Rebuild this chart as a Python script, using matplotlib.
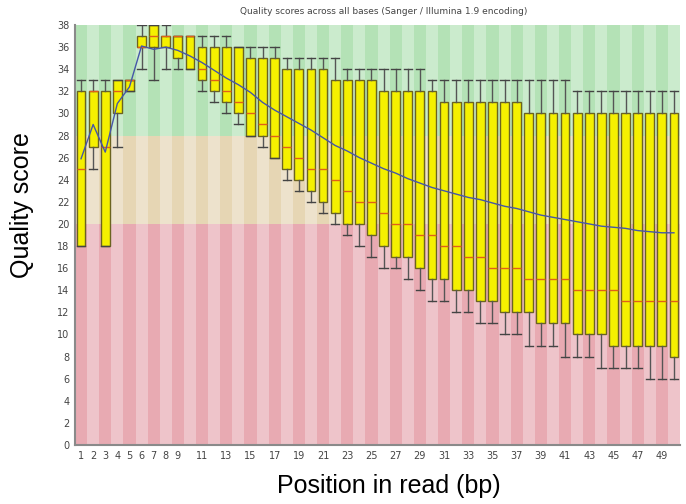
import matplotlib
matplotlib.use("Agg")
import matplotlib.pyplot as plt

# Per-base quality (FastQC style): whiskers = 10th/90th pct, box = quartiles
positions = list(range(1, 51))
whisker_low = [18, 25, 18, 27, 32, 34, 33, 34, 34, 34,
               32, 31, 30, 29, 28, 27, 26, 24, 23, 22,
               21, 20, 19, 18, 17, 16, 16, 15, 14, 13,
               13, 12, 12, 11, 11, 10, 10, 9, 9, 9,
               8, 8, 8, 7, 7, 7, 7, 6, 6, 6]
q1 = [18, 27, 18, 30, 32, 36, 36, 36, 35, 34,
      33, 32, 31, 30, 28, 28, 26, 25, 24, 23,
      22, 21, 20, 20, 19, 18, 17, 17, 16, 15,
      15, 14, 14, 13, 13, 12, 12, 12, 11, 11,
      11, 10, 10, 10, 9, 9, 9, 9, 9, 8]
median = [25, 32, 27, 32, 33, 36, 37, 37, 37, 37,
          34, 33, 32, 31, 30, 29, 28, 27, 26, 25,
          25, 24, 23, 22, 22, 21, 20, 20, 19, 19,
          18, 18, 17, 17, 16, 16, 16, 15, 15, 15,
          15, 14, 14, 14, 14, 13, 13, 13, 13, 13]
q3 = [32, 32, 32, 33, 33, 37, 38, 37, 37, 37,
      36, 36, 36, 36, 35, 35, 35, 34, 34, 34,
      34, 33, 33, 33, 33, 32, 32, 32, 32, 32,
      31, 31, 31, 31, 31, 31, 31, 30, 30, 30,
      30, 30, 30, 30, 30, 30, 30, 30, 30, 30]
whisker_high = [33, 33, 33, 33, 33, 38, 38, 38, 37, 37,
                37, 37, 37, 36, 36, 36, 36, 35, 35, 35,
                35, 35, 34, 34, 34, 34, 34, 34, 34, 33,
                33, 33, 33, 33, 33, 33, 33, 33, 33, 33,
                33, 32, 32, 32, 32, 32, 32, 32, 32, 32]
mean = [25.9, 29.0, 26.5, 30.9, 32.4, 36.1, 35.8, 36.0, 35.7, 35.2,
        34.6, 33.9, 33.2, 32.6, 31.9, 31.0, 30.3, 29.7, 29.1, 28.5,
        27.8, 27.1, 26.6, 26.0, 25.5, 25.0, 24.6, 24.1, 23.7, 23.3,
        23.0, 22.7, 22.4, 22.2, 21.9, 21.6, 21.4, 21.1, 20.8, 20.6,
        20.4, 20.2, 20.0, 19.8, 19.7, 19.6, 19.4, 19.3, 19.2, 19.2]

xtick_labels = [1, 2, 3, 4, 5, 6, 7, 8, 9] + list(range(11, 50, 2))

# background bands: (bottom, top, dark colour, light colour)
bands = [(0, 20, "#e8aab2", "#eec4ca"),
         (20, 28, "#e6d6b4", "#ede2cc"),
         (28, 38, "#b4e2b6", "#cbebcd")]

fig = plt.figure(figsize=(6.86, 5.04), dpi=100)
ax = fig.add_axes([75 / 686, 1 - 445 / 504, 605 / 686, 420 / 504])

for lo, hi, dark, light in bands:
    cols = [dark if p % 2 == 1 else light for p in positions]
    ax.bar(positions, hi - lo, bottom=lo, width=1.0, color=cols,
           linewidth=0, zorder=0)

stats = []
for i in range(len(positions)):
    stats.append({"whislo": whisker_low[i], "q1": q1[i], "med": median[i],
                  "q3": q3[i], "whishi": whisker_high[i], "fliers": []})

ax.bxp(stats, positions=positions, widths=0.72, patch_artist=True,
       showfliers=False, manage_ticks=False,
       boxprops=dict(facecolor="#f5f000", edgecolor="#6b6420", linewidth=1.0),
       medianprops=dict(color="#e0601a", linewidth=1.0),
       whiskerprops=dict(color="#555555", linewidth=1.0),
       capprops=dict(color="#444444", linewidth=1.0),
       capwidths=0.7)

ax.plot(positions, mean, color="#4656a8", linewidth=1.0, zorder=5)

ax.set_xlim(0.5, 50.5)
ax.set_ylim(0, 38)
ax.set_yticks(range(0, 39, 2))
ax.set_xticks(xtick_labels)
ax.set_xticklabels([str(v) for v in xtick_labels])
ax.tick_params(axis="both", length=0, labelsize=7, colors="#444444", pad=4)
for s in ["top", "right"]:
    ax.spines[s].set_visible(False)
for s in ["left", "bottom"]:
    ax.spines[s].set_color("#8a8a8a")
    ax.spines[s].set_linewidth(1.5)

fig.text(384 / 686, 1 - 12 / 504,
         "Quality scores across all bases (Sanger / Illumina 1.9 encoding)",
         ha="center", va="center", fontsize=6.5, color="#444444")
fig.text(22 / 686, 1 - 205 / 504, "Quality score", rotation=90,
         ha="center", va="center", fontsize=18, family="Liberation Sans")
fig.text(389 / 686, 1 - 486 / 504, "Position in read (bp)",
         ha="center", va="center", fontsize=18, family="Liberation Sans")

fig.savefig("out.png", dpi=100)
